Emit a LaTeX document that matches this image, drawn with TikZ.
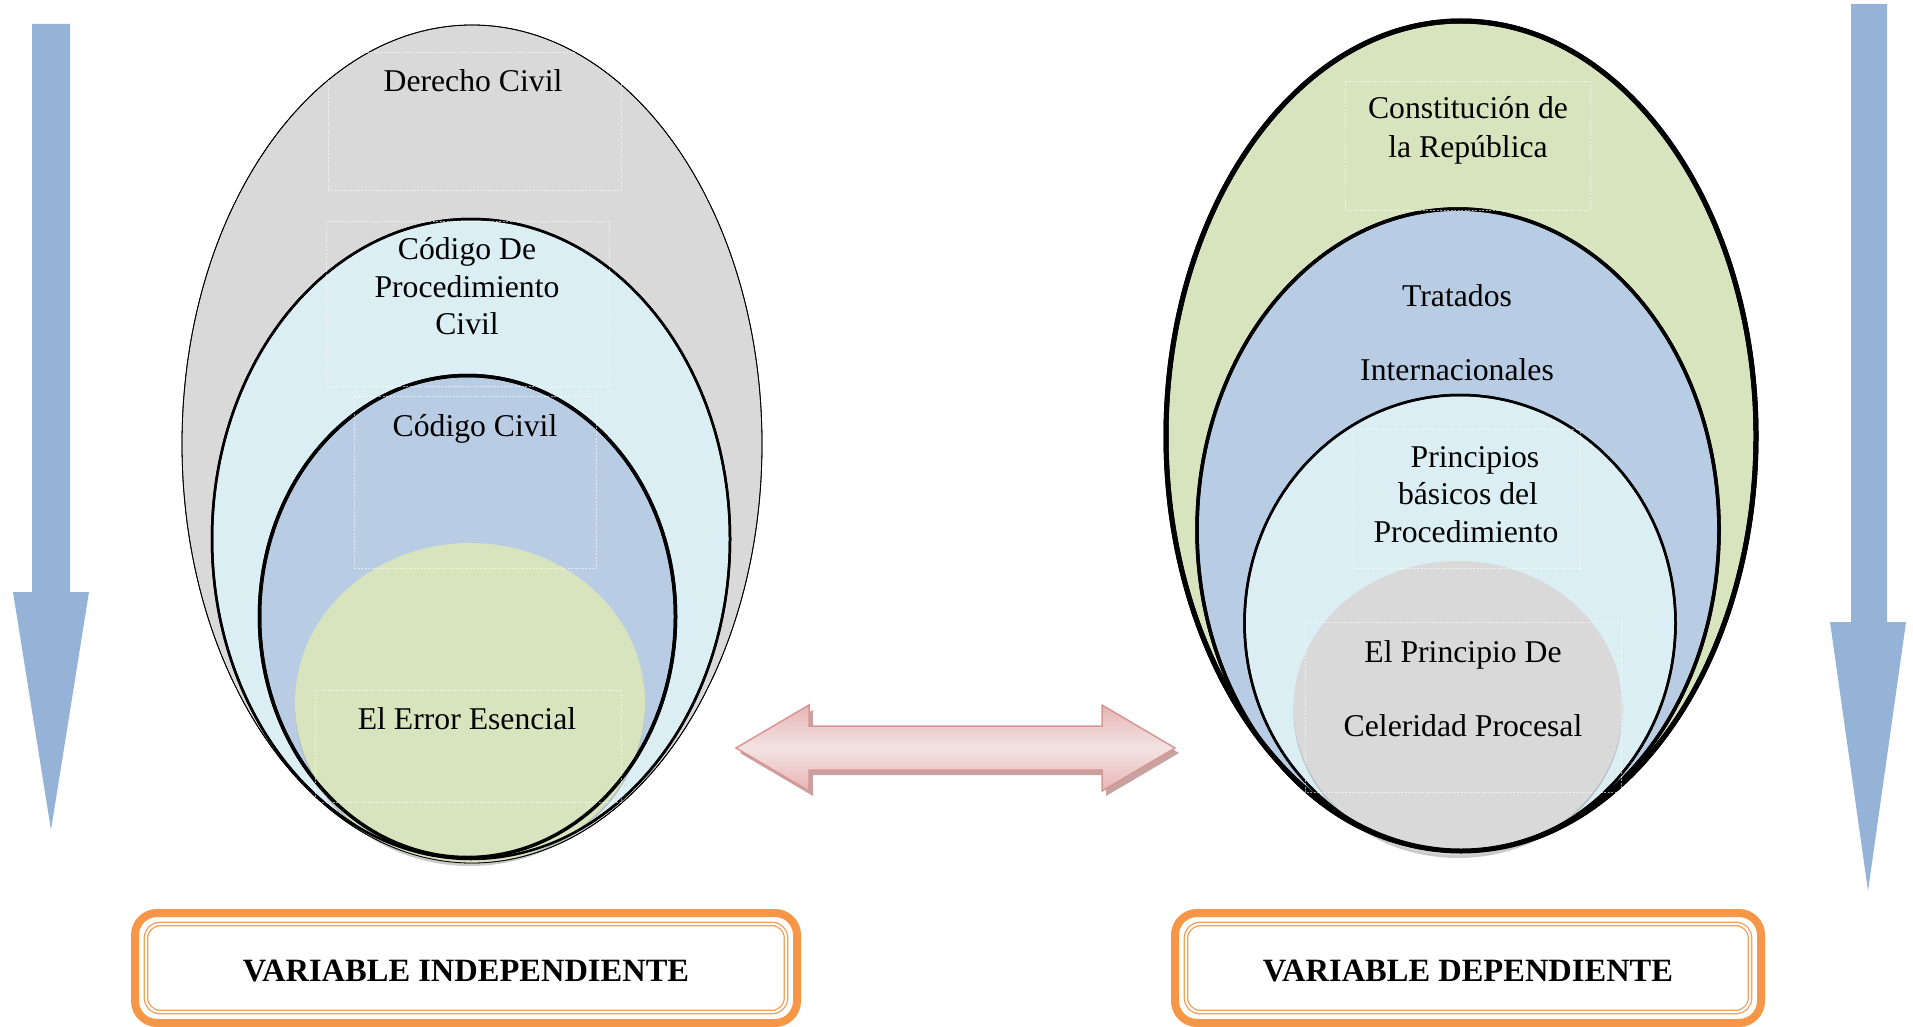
\documentclass[tikz,border=0pt]{standalone}
\usepackage{fontspec}
\setmainfont{Liberation Serif}
\usetikzlibrary{shapes.geometric}
\definecolor{gry}{HTML}{D9D9D9}
\definecolor{lblue}{HTML}{DBEEF3}
\definecolor{mblue}{HTML}{B8CCE4}
\definecolor{lgreen}{HTML}{D7E4BD}
\definecolor{arrowblue}{HTML}{95B3D7}
\definecolor{orng}{HTML}{F79646}
\definecolor{pinkdark}{HTML}{D99694}
\definecolor{pinkmid}{HTML}{E6B5B4}
\definecolor{pinklight}{HTML}{F4E3E3}
\definecolor{pinkshadow}{HTML}{B98B8A}
\begin{document}
\begin{tikzpicture}[x=1pt,y=-1pt,
  lbl/.style={font=\fontsize{31.7}{37.5}\selectfont, anchor=base, inner sep=0pt},
  blbl/.style={font=\fontsize{32.5}{38}\selectfont\bfseries, anchor=base, inner sep=0pt},
  tbox/.style={draw=white, line width=0.9pt, dash pattern=on 2pt off 1.5pt, opacity=0.6},
  bluearrow/.style={fill=arrowblue, draw=none},
  shadowell/.style={fill=black!35, opacity=0.6, draw=none},
  outerbox/.style={draw=orng, line width=8pt, rounded corners=22pt},
  innerbox/.style={draw=orng, line width=1.2pt, double=white, double distance=2.2pt, rounded corners=14pt}
]
\useasboundingbox (0,0) rectangle (1913,1027);

% side arrows
\path[bluearrow] (32,24) -- (70,24) -- (70,592) -- (89,592) -- (51,830) -- (13,592) -- (32,592) -- cycle;
\path[bluearrow] (1851,4) -- (1887,4) -- (1887,622) -- (1906,622) -- (1868,891) -- (1830,622) -- (1851,622) -- cycle;

% ---------- left group ----------
\draw[fill=gry, line width=0.8pt] (472,444) ellipse [x radius=290, y radius=419];
\draw[fill=lblue, line width=2.5pt] (471,539) ellipse [x radius=259, y radius=320];
\draw[fill=mblue, line width=3.5pt] (467.5,616.5) ellipse [x radius=208, y radius=241];
\path[shadowell] (470,706) ellipse [x radius=175, y radius=160];
\path[fill=lgreen] (470,703) ellipse [x radius=175, y radius=160];
\draw[line width=0.8pt] (472,444) ellipse [x radius=290, y radius=419];
\draw[line width=2.5pt] (471,539) ellipse [x radius=259, y radius=320];
\draw[line width=3.5pt] (467.5,616.5) ellipse [x radius=208, y radius=241];

\draw[tbox] (328,52) rectangle (621.5,190);
\draw[tbox] (326,221) rectangle (609,386);
\draw[tbox] (354.5,396) rectangle (596.5,568);
\draw[tbox] (315,690) rectangle (621.5,802);

\node[lbl] (dc) at (473,92) {Derecho Civil};
\node[lbl] (cpca) at (467,259) {Código De};
\node[lbl] (cpcb) at (467,297) {Procedimiento};
\node[lbl] (cpcc) at (467,334) {Civil};
\node[lbl] (cc) at (475,436) {Código Civil};
\node[lbl] (ee) at (467,729) {El Error Esencial};

% ---------- right group ----------
\draw[fill=lgreen, line width=5pt] (1461,436) ellipse [x radius=295, y radius=415];
\draw[fill=mblue, line width=3.5pt] (1458,530) ellipse [x radius=261, y radius=321];
\draw[fill=lblue, line width=2.5pt] (1460,623) ellipse [x radius=215.5, y radius=228];
\path[shadowell] (1458,711) ellipse [x radius=164.5, y radius=147];
\path[fill=gry] (1458,708) ellipse [x radius=164.5, y radius=147];
\draw[line width=5pt] (1461,436) ellipse [x radius=295, y radius=415];
\draw[line width=3.5pt] (1458,530) ellipse [x radius=261, y radius=321];
\draw[line width=2.5pt] (1460,623) ellipse [x radius=215.5, y radius=228];

\draw[tbox] (1345,81) rectangle (1590,210);
\draw[tbox] (1353,429) rectangle (1580,568);
\draw[tbox] (1305,622) rectangle (1621,792);

\node[lbl] (cra) at (1468,119) {Constitución de};
\node[lbl] (crb) at (1468,158) {la República};
\node[lbl] (tia) at (1457,306) {Tratados};
\node[lbl] (tib) at (1457,380) {Internacionales};
\node[lbl] (pba) at (1475,467) {Principios};
\node[lbl] (pbb) at (1468,504) {básicos del};
\node[lbl] (pbc) at (1466,542) {Procedimiento};
\node[lbl] (epa) at (1463,662) {El Principio De};
\node[lbl] (epb) at (1463,736) {Celeridad Procesal};

% ---------- double arrow ----------
\path[fill=pinkshadow, opacity=0.8] ([shift={(4,5)}]736,748) -- ++(73,-43) -- ++(0,21) -- ++(293,0) -- ++(0,-21) -- ++(73,43) -- ++(-73,43) -- ++(0,-21) -- ++(-293,0) -- ++(0,21) -- cycle;
\draw[draw=pinkdark, line width=1.5pt, top color=pinkmid, bottom color=pinkmid, middle color=pinklight]
  (736,748) -- (809,705) -- (809,726) -- (1102,726) -- (1102,705) -- (1175,748) -- (1102,791) -- (1102,770) -- (809,770) -- (809,791) -- cycle;

% ---------- bottom boxes ----------
\draw[outerbox] (135,913) rectangle (797,1023);
\draw[innerbox] (146,924) rectangle (786,1012);
\node[blbl] (vi) at (466,981) {VARIABLE INDEPENDIENTE};

\draw[outerbox] (1175,913) rectangle (1761,1023);
\draw[innerbox] (1186,924) rectangle (1750,1012);
\node[blbl] (vd) at (1468,981) {VARIABLE DEPENDIENTE};
\end{tikzpicture}
\end{document}
